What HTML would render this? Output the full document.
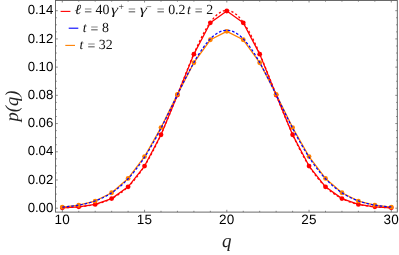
<!DOCTYPE html>
<html><head><meta charset="utf-8"><style>
html,body{margin:0;padding:0;background:#fff;}
svg text{text-rendering:geometricPrecision;}
svg{will-change:transform;opacity:0.999;}
body{width:399px;height:255px;position:relative;overflow:hidden;font-family:"Liberation Sans",sans-serif;}
</style></head><body>
<svg width="399" height="255" viewBox="0 0 399 255" style="position:absolute;left:0;top:0">
<polyline points="62.30,207.79 78.75,206.87 95.20,204.41 111.65,198.62 128.10,186.83 144.55,166.06 161.00,134.75 177.45,95.05 193.90,54.13 210.35,22.79 226.80,10.98 243.25,22.79 259.70,54.13 276.15,95.05 292.60,134.75 309.05,166.06 325.50,186.83 341.95,198.62 358.40,204.41 374.85,206.87 391.30,207.79" fill="none" stroke="#ff0000" stroke-width="1.3" stroke-linejoin="round"/>
<circle cx="62.30" cy="207.79" r="2.4" fill="#ff0000"/>
<circle cx="78.75" cy="206.87" r="2.4" fill="#ff0000"/>
<circle cx="95.20" cy="204.41" r="2.4" fill="#ff0000"/>
<circle cx="111.65" cy="198.62" r="2.4" fill="#ff0000"/>
<circle cx="128.10" cy="186.83" r="2.4" fill="#ff0000"/>
<circle cx="144.55" cy="166.06" r="2.4" fill="#ff0000"/>
<circle cx="161.00" cy="134.75" r="2.4" fill="#ff0000"/>
<circle cx="177.45" cy="95.05" r="2.4" fill="#ff0000"/>
<circle cx="193.90" cy="54.13" r="2.4" fill="#ff0000"/>
<circle cx="210.35" cy="22.79" r="2.4" fill="#ff0000"/>
<circle cx="226.80" cy="10.98" r="2.4" fill="#ff0000"/>
<circle cx="243.25" cy="22.79" r="2.4" fill="#ff0000"/>
<circle cx="259.70" cy="54.13" r="2.4" fill="#ff0000"/>
<circle cx="276.15" cy="95.05" r="2.4" fill="#ff0000"/>
<circle cx="292.60" cy="134.75" r="2.4" fill="#ff0000"/>
<circle cx="309.05" cy="166.06" r="2.4" fill="#ff0000"/>
<circle cx="325.50" cy="186.83" r="2.4" fill="#ff0000"/>
<circle cx="341.95" cy="198.62" r="2.4" fill="#ff0000"/>
<circle cx="358.40" cy="204.41" r="2.4" fill="#ff0000"/>
<circle cx="374.85" cy="206.87" r="2.4" fill="#ff0000"/>
<circle cx="391.30" cy="207.79" r="2.4" fill="#ff0000"/>
<polyline points="62.30,207.11 78.75,205.23 95.20,201.03 111.65,192.76 128.10,178.42 144.55,156.59 161.00,127.56 177.45,94.35 193.90,62.73 210.35,39.76 226.80,31.34 243.25,39.76 259.70,62.73 276.15,94.35 292.60,127.56 309.05,156.59 325.50,178.42 341.95,192.76 358.40,201.03 374.85,205.23 391.30,207.11" fill="none" stroke="#ff8000" stroke-width="1.3" stroke-linejoin="round"/>
<circle cx="62.30" cy="207.11" r="2.4" fill="#ff8000"/>
<circle cx="78.75" cy="205.23" r="2.4" fill="#ff8000"/>
<circle cx="95.20" cy="201.03" r="2.4" fill="#ff8000"/>
<circle cx="111.65" cy="192.76" r="2.4" fill="#ff8000"/>
<circle cx="128.10" cy="178.42" r="2.4" fill="#ff8000"/>
<circle cx="144.55" cy="156.59" r="2.4" fill="#ff8000"/>
<circle cx="161.00" cy="127.56" r="2.4" fill="#ff8000"/>
<circle cx="177.45" cy="94.35" r="2.4" fill="#ff8000"/>
<circle cx="193.90" cy="62.73" r="2.4" fill="#ff8000"/>
<circle cx="210.35" cy="39.76" r="2.4" fill="#ff8000"/>
<circle cx="226.80" cy="31.34" r="2.4" fill="#ff8000"/>
<circle cx="243.25" cy="39.76" r="2.4" fill="#ff8000"/>
<circle cx="259.70" cy="62.73" r="2.4" fill="#ff8000"/>
<circle cx="276.15" cy="94.35" r="2.4" fill="#ff8000"/>
<circle cx="292.60" cy="127.56" r="2.4" fill="#ff8000"/>
<circle cx="309.05" cy="156.59" r="2.4" fill="#ff8000"/>
<circle cx="325.50" cy="178.42" r="2.4" fill="#ff8000"/>
<circle cx="341.95" cy="192.76" r="2.4" fill="#ff8000"/>
<circle cx="358.40" cy="201.03" r="2.4" fill="#ff8000"/>
<circle cx="374.85" cy="205.23" r="2.4" fill="#ff8000"/>
<circle cx="391.30" cy="207.11" r="2.4" fill="#ff8000"/>
<polyline points="62.30,207.79 63.94,207.73 65.59,207.67 67.24,207.61 68.88,207.53 70.52,207.45 72.17,207.35 73.81,207.25 75.46,207.14 77.11,207.01 78.75,206.87 80.39,206.71 82.04,206.54 83.69,206.35 85.33,206.14 86.97,205.91 88.62,205.66 90.26,205.39 91.91,205.08 93.56,204.75 95.20,204.39 96.84,204.00 98.49,203.58 100.14,203.11 101.78,202.61 103.42,202.06 105.07,201.47 106.71,200.83 108.36,200.14 110.00,199.40 111.65,198.60 113.29,197.73 114.94,196.81 116.59,195.82 118.23,194.76 119.88,193.63 121.52,192.42 123.16,191.14 124.81,189.77 126.45,188.31 128.10,186.77 129.75,185.14 131.39,183.41 133.04,181.59 134.68,179.66 136.32,177.64 137.97,175.51 139.61,173.28 141.26,170.94 142.91,168.50 144.55,165.94 146.19,163.28 147.84,160.51 149.49,157.63 151.13,154.64 152.77,151.55 154.42,148.35 156.06,145.04 157.71,141.64 159.36,138.14 161.00,134.55 162.65,130.87 164.29,127.11 165.94,123.26 167.58,119.35 169.22,115.37 170.87,111.33 172.51,107.24 174.16,103.10 175.80,98.94 177.45,94.74 179.10,90.54 180.74,86.32 182.38,82.11 184.03,77.92 185.68,73.75 187.32,69.62 188.96,65.55 190.61,61.53 192.25,57.58 193.90,53.72 195.55,49.96 197.19,46.30 198.83,42.77 200.48,39.36 202.12,36.10 203.77,32.99 205.41,30.05 207.06,27.28 208.70,24.69 210.35,22.29 212.00,20.10 213.64,18.12 215.29,16.35 216.93,14.80 218.57,13.48 220.22,12.40 221.86,11.55 223.51,10.94 225.15,10.58 226.80,10.46 228.44,10.58 230.09,10.94 231.74,11.55 233.38,12.40 235.02,13.48 236.67,14.80 238.31,16.35 239.96,18.12 241.60,20.10 243.25,22.29 244.90,24.69 246.54,27.28 248.19,30.05 249.83,32.99 251.47,36.10 253.12,39.36 254.76,42.77 256.41,46.30 258.05,49.96 259.70,53.72 261.35,57.58 262.99,61.53 264.63,65.55 266.28,69.62 267.93,73.75 269.57,77.92 271.21,82.11 272.86,86.32 274.50,90.54 276.15,94.74 277.80,98.94 279.44,103.10 281.08,107.24 282.73,111.33 284.38,115.37 286.02,119.35 287.66,123.26 289.31,127.11 290.95,130.87 292.60,134.55 294.25,138.14 295.89,141.64 297.54,145.04 299.18,148.35 300.82,151.55 302.47,154.64 304.11,157.63 305.76,160.51 307.40,163.28 309.05,165.94 310.69,168.50 312.34,170.94 313.99,173.28 315.63,175.51 317.27,177.64 318.92,179.66 320.56,181.59 322.21,183.41 323.85,185.14 325.50,186.77 327.15,188.31 328.79,189.77 330.44,191.14 332.08,192.42 333.73,193.63 335.37,194.76 337.01,195.82 338.66,196.81 340.30,197.73 341.95,198.60 343.60,199.40 345.24,200.14 346.88,200.83 348.53,201.47 350.18,202.06 351.82,202.61 353.46,203.11 355.11,203.58 356.75,204.00 358.40,204.39 360.05,204.75 361.69,205.08 363.34,205.39 364.98,205.66 366.62,205.91 368.27,206.14 369.91,206.35 371.56,206.54 373.20,206.71 374.85,206.87 376.50,207.01 378.14,207.14 379.79,207.25 381.43,207.35 383.07,207.45 384.72,207.53 386.37,207.61 388.01,207.67 389.65,207.73 391.30,207.79" fill="none" stroke="#ff0000" stroke-width="1.3" stroke-dasharray="2.2,2.2"/>
<polyline points="62.30,207.00 63.94,206.88 65.59,206.74 67.24,206.59 68.88,206.43 70.52,206.25 72.17,206.05 73.81,205.84 75.46,205.62 77.11,205.37 78.75,205.10 80.39,204.81 82.04,204.50 83.69,204.16 85.33,203.79 86.97,203.40 88.62,202.97 90.26,202.52 91.91,202.03 93.56,201.51 95.20,200.95 96.84,200.35 98.49,199.70 100.14,199.02 101.78,198.29 103.42,197.51 105.07,196.69 106.71,195.81 108.36,194.88 110.00,193.89 111.65,192.84 113.29,191.74 114.94,190.57 116.59,189.34 118.23,188.04 119.88,186.68 121.52,185.24 123.16,183.74 124.81,182.16 126.45,180.51 128.10,178.78 129.75,176.98 131.39,175.10 133.04,173.14 134.68,171.10 136.32,168.98 137.97,166.79 139.61,164.51 141.26,162.16 142.91,159.72 144.55,157.21 146.19,154.62 147.84,151.96 149.49,149.23 151.13,146.42 152.77,143.54 154.42,140.60 156.06,137.59 157.71,134.53 159.36,131.41 161.00,128.23 162.65,125.01 164.29,121.75 165.94,118.44 167.58,115.11 169.22,111.74 170.87,108.36 172.51,104.95 174.16,101.54 175.80,98.13 177.45,94.72 179.10,91.32 180.74,87.95 182.38,84.59 184.03,81.27 185.68,77.99 187.32,74.77 188.96,71.59 190.61,68.48 192.25,65.45 193.90,62.49 195.55,59.62 197.19,56.85 198.83,54.18 200.48,51.61 202.12,49.17 203.77,46.84 205.41,44.65 207.06,42.59 208.70,40.68 210.35,38.91 212.00,37.29 213.64,35.84 215.29,34.54 216.93,33.41 218.57,32.44 220.22,31.65 221.86,31.03 223.51,30.59 225.15,30.32 226.80,30.23 228.44,30.32 230.09,30.59 231.74,31.03 233.38,31.65 235.02,32.44 236.67,33.41 238.31,34.54 239.96,35.84 241.60,37.29 243.25,38.91 244.90,40.68 246.54,42.59 248.19,44.65 249.83,46.84 251.47,49.17 253.12,51.61 254.76,54.18 256.41,56.85 258.05,59.62 259.70,62.49 261.35,65.45 262.99,68.48 264.63,71.59 266.28,74.77 267.93,77.99 269.57,81.27 271.21,84.59 272.86,87.95 274.50,91.32 276.15,94.72 277.80,98.13 279.44,101.54 281.08,104.95 282.73,108.36 284.38,111.74 286.02,115.11 287.66,118.44 289.31,121.75 290.95,125.01 292.60,128.23 294.25,131.41 295.89,134.53 297.54,137.59 299.18,140.60 300.82,143.54 302.47,146.42 304.11,149.23 305.76,151.96 307.40,154.62 309.05,157.21 310.69,159.72 312.34,162.16 313.99,164.51 315.63,166.79 317.27,168.98 318.92,171.10 320.56,173.14 322.21,175.10 323.85,176.98 325.50,178.78 327.15,180.51 328.79,182.16 330.44,183.74 332.08,185.24 333.73,186.68 335.37,188.04 337.01,189.34 338.66,190.57 340.30,191.74 341.95,192.84 343.60,193.89 345.24,194.88 346.88,195.81 348.53,196.69 350.18,197.51 351.82,198.29 353.46,199.02 355.11,199.70 356.75,200.35 358.40,200.95 360.05,201.51 361.69,202.03 363.34,202.52 364.98,202.97 366.62,203.40 368.27,203.79 369.91,204.16 371.56,204.50 373.20,204.81 374.85,205.10 376.50,205.37 378.14,205.62 379.79,205.84 381.43,206.05 383.07,206.25 384.72,206.43 386.37,206.59 388.01,206.74 389.65,206.88 391.30,207.00" fill="none" stroke="#0000ff" stroke-width="1.25" stroke-dasharray="2.6,1.9"/>
<rect x="55.5" y="0.5" width="341.8" height="211.6" fill="none" stroke="#5a5a5a" stroke-width="0.9"/>
<path d="M62.30,212.1v-2.3 M62.30,0.5v2.0 M78.75,212.1v-1.3 M78.75,0.5v1.2 M95.20,212.1v-1.3 M95.20,0.5v1.2 M111.65,212.1v-1.3 M111.65,0.5v1.2 M128.10,212.1v-1.3 M128.10,0.5v1.2 M144.55,212.1v-2.3 M144.55,0.5v2.0 M161.00,212.1v-1.3 M161.00,0.5v1.2 M177.45,212.1v-1.3 M177.45,0.5v1.2 M193.90,212.1v-1.3 M193.90,0.5v1.2 M210.35,212.1v-1.3 M210.35,0.5v1.2 M226.80,212.1v-2.3 M226.80,0.5v2.0 M243.25,212.1v-1.3 M243.25,0.5v1.2 M259.70,212.1v-1.3 M259.70,0.5v1.2 M276.15,212.1v-1.3 M276.15,0.5v1.2 M292.60,212.1v-1.3 M292.60,0.5v1.2 M309.05,212.1v-2.3 M309.05,0.5v2.0 M325.50,212.1v-1.3 M325.50,0.5v1.2 M341.95,212.1v-1.3 M341.95,0.5v1.2 M358.40,212.1v-1.3 M358.40,0.5v1.2 M374.85,212.1v-1.3 M374.85,0.5v1.2 M391.30,212.1v-2.3 M391.30,0.5v2.0 M55.5,208.20h2.3 M397.3,208.20h-2.0 M55.5,201.15h1.3 M397.3,201.15h-1.2 M55.5,194.09h1.3 M397.3,194.09h-1.2 M55.5,187.04h1.3 M397.3,187.04h-1.2 M55.5,179.99h2.3 M397.3,179.99h-2.0 M55.5,172.93h1.3 M397.3,172.93h-1.2 M55.5,165.88h1.3 M397.3,165.88h-1.2 M55.5,158.83h1.3 M397.3,158.83h-1.2 M55.5,151.77h2.3 M397.3,151.77h-2.0 M55.5,144.72h1.3 M397.3,144.72h-1.2 M55.5,137.66h1.3 M397.3,137.66h-1.2 M55.5,130.61h1.3 M397.3,130.61h-1.2 M55.5,123.56h2.3 M397.3,123.56h-2.0 M55.5,116.50h1.3 M397.3,116.50h-1.2 M55.5,109.45h1.3 M397.3,109.45h-1.2 M55.5,102.40h1.3 M397.3,102.40h-1.2 M55.5,95.34h2.3 M397.3,95.34h-2.0 M55.5,88.29h1.3 M397.3,88.29h-1.2 M55.5,81.24h1.3 M397.3,81.24h-1.2 M55.5,74.18h1.3 M397.3,74.18h-1.2 M55.5,67.13h2.3 M397.3,67.13h-2.0 M55.5,60.08h1.3 M397.3,60.08h-1.2 M55.5,53.02h1.3 M397.3,53.02h-1.2 M55.5,45.97h1.3 M397.3,45.97h-1.2 M55.5,38.92h2.3 M397.3,38.92h-2.0 M55.5,31.86h1.3 M397.3,31.86h-1.2 M55.5,24.81h1.3 M397.3,24.81h-1.2 M55.5,17.76h1.3 M397.3,17.76h-1.2 M55.5,10.70h2.3 M397.3,10.70h-2.0" stroke="#5a5a5a" stroke-width="0.7" fill="none"/>
<text x="53.3" y="211.80" text-anchor="end" font-family="Liberation Sans, sans-serif" font-size="13.2" fill="#000">0.00</text>
<text x="53.3" y="183.59" text-anchor="end" font-family="Liberation Sans, sans-serif" font-size="13.2" fill="#000">0.02</text>
<text x="53.3" y="155.37" text-anchor="end" font-family="Liberation Sans, sans-serif" font-size="13.2" fill="#000">0.04</text>
<text x="53.3" y="127.16" text-anchor="end" font-family="Liberation Sans, sans-serif" font-size="13.2" fill="#000">0.06</text>
<text x="53.3" y="98.94" text-anchor="end" font-family="Liberation Sans, sans-serif" font-size="13.2" fill="#000">0.08</text>
<text x="53.3" y="70.73" text-anchor="end" font-family="Liberation Sans, sans-serif" font-size="13.2" fill="#000">0.10</text>
<text x="53.3" y="42.52" text-anchor="end" font-family="Liberation Sans, sans-serif" font-size="13.2" fill="#000">0.12</text>
<text x="53.3" y="14.30" text-anchor="end" font-family="Liberation Sans, sans-serif" font-size="13.2" fill="#000">0.14</text>
<text x="62.30" y="224.3" text-anchor="middle" letter-spacing="0.4" font-family="Liberation Sans, sans-serif" font-size="13.5" fill="#000">10</text>
<text x="144.55" y="224.3" text-anchor="middle" letter-spacing="0.4" font-family="Liberation Sans, sans-serif" font-size="13.5" fill="#000">15</text>
<text x="226.80" y="224.3" text-anchor="middle" letter-spacing="0.4" font-family="Liberation Sans, sans-serif" font-size="13.5" fill="#000">20</text>
<text x="309.05" y="224.3" text-anchor="middle" letter-spacing="0.4" font-family="Liberation Sans, sans-serif" font-size="13.5" fill="#000">25</text>
<text x="391.30" y="224.3" text-anchor="middle" letter-spacing="0.4" font-family="Liberation Sans, sans-serif" font-size="13.5" fill="#000">30</text>
<text x="226.8" y="247.0" text-anchor="middle" font-family="Liberation Serif, serif" font-style="italic" font-size="19" fill="#222">q</text>
<text transform="translate(17.5,106) rotate(-90)" text-anchor="middle" font-family="Liberation Serif, serif" font-style="italic" font-size="18.5" fill="#222">p(q)</text>
<path d="M60.6,11.4H70.4" stroke="#ff0000" stroke-width="1.1"/>
<path d="M68.7,28.2H78.3" stroke="#0000ff" stroke-width="1.1"/>
<path d="M65.3,45.4H75" stroke="#ff8000" stroke-width="1.1"/>
<text transform="translate(74.57,14.1) scale(1.15,1)" font-family="Liberation Serif, serif" font-size="13.9" font-style="italic" fill="#111">ℓ</text>
<text transform="translate(84.21,15.4) scale(1.0,1)" font-family="Liberation Serif, serif" font-size="13.9" fill="#111">=</text>
<text transform="translate(95.53,14.1) scale(1.0,1)" font-family="Liberation Serif, serif" font-size="13.9" fill="#111">40</text>
<text transform="translate(110.97,14.1) scale(1.3,1)" font-family="Liberation Serif, serif" font-size="13.9" font-style="italic" fill="#111">γ</text>
<text transform="translate(118.52,9.7) scale(1.0,1)" font-family="Liberation Serif, serif" font-size="9.6" fill="#111">+</text>
<text transform="translate(128.01,15.4) scale(1.0,1)" font-family="Liberation Serif, serif" font-size="13.9" fill="#111">=</text>
<text transform="translate(139.67,14.1) scale(1.3,1)" font-family="Liberation Serif, serif" font-size="13.9" font-style="italic" fill="#111">γ</text>
<text transform="translate(146.32,9.7) scale(1.0,1)" font-family="Liberation Serif, serif" font-size="9.6" fill="#111">−</text>
<text transform="translate(156.71,15.4) scale(1.0,1)" font-family="Liberation Serif, serif" font-size="13.9" fill="#111">=</text>
<text transform="translate(168.17,14.1) scale(1.0,1)" font-family="Liberation Serif, serif" font-size="13.9" fill="#111">0.2</text>
<text transform="translate(186.89,14.1) scale(1.0,1)" font-family="Liberation Serif, serif" font-size="13.9" font-style="italic" fill="#111">t</text>
<text transform="translate(194.81,15.4) scale(1.0,1)" font-family="Liberation Serif, serif" font-size="13.9" fill="#111">=</text>
<text transform="translate(206.19,14.1) scale(1.0,1)" font-family="Liberation Serif, serif" font-size="13.9" fill="#111">2</text>
<text transform="translate(82.69,31.5) scale(1.0,1)" font-family="Liberation Serif, serif" font-size="13.9" font-style="italic" fill="#111">t</text>
<text transform="translate(90.51,32.8) scale(1.0,1)" font-family="Liberation Serif, serif" font-size="13.9" fill="#111">=</text>
<text transform="translate(102.07,31.5) scale(1.0,1)" font-family="Liberation Serif, serif" font-size="13.9" fill="#111">8</text>
<text transform="translate(79.39,48.5) scale(1.0,1)" font-family="Liberation Serif, serif" font-size="13.9" font-style="italic" fill="#111">t</text>
<text transform="translate(87.51,49.8) scale(1.0,1)" font-family="Liberation Serif, serif" font-size="13.9" fill="#111">=</text>
<text transform="translate(98.73,48.5) scale(1.0,1)" font-family="Liberation Serif, serif" font-size="13.9" fill="#111">32</text>
</svg>
</body></html>
